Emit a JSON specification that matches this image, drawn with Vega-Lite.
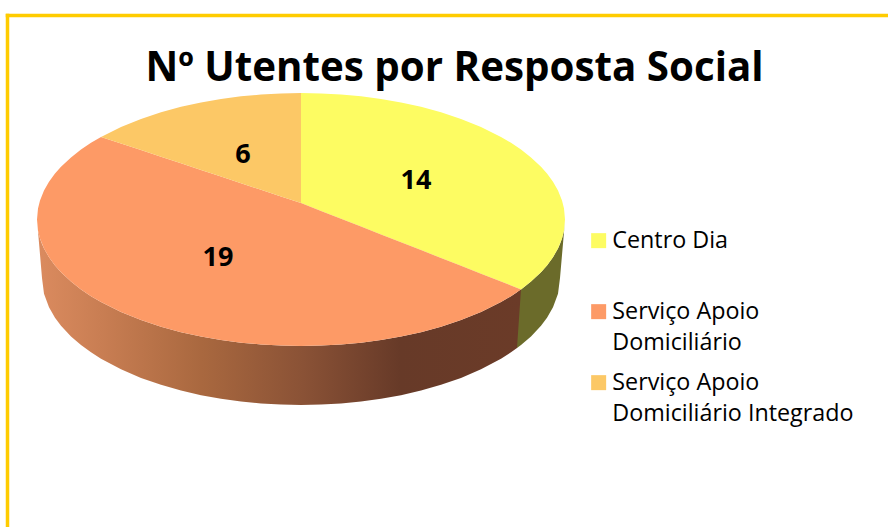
{"$schema":"https://vega.github.io/schema/vega-lite/v6.json","width":881,"height":512,"autosize":"none","padding":{"left":7,"top":15,"right":0,"bottom":0},"background":"white","config":{"view":{"stroke":null},"style":{"guide-label":{"lineHeight":31.5}}},"title":{"text":"Nº Utentes por Resposta Social","font":"Open Sans","fontSize":40.3,"fontWeight":"bold","color":"#000000","anchor":"middle","frame":"group","dx":7,"dy":106,"offset":0,"baseline":"alphabetic"},"datasets":{"wallYellow":[{"x":517,"y":292.2,"y2":348.1},{"x":521,"y":289.4,"y2":345},{"x":531,"y":281.6,"y2":336.4},{"x":541,"y":272.2,"y2":325.8},{"x":547,"y":265.4,"y2":317.7},{"x":553,"y":257.2,"y2":307.3},{"x":558,"y":248.4,"y2":293.7},{"x":560,"y":244,"y2":278},{"x":562,"y":238.5,"y2":255},{"x":564,"y":230.5,"y2":232},{"x":565,"y":219.5,"y2":219.5}],"wallOrange":[{"x":37,"y":219.5,"y2":219.5},{"x":38,"y":230.5,"y2":231.2},{"x":40,"y":238.5,"y2":254.6},{"x":42,"y":244,"y2":278},{"x":44,"y":248.4,"y2":293.7},{"x":49,"y":257.2,"y2":307.3},{"x":55,"y":265.4,"y2":317.7},{"x":61,"y":272.2,"y2":325.8},{"x":71,"y":281.6,"y2":336.4},{"x":81,"y":289.4,"y2":345},{"x":91,"y":296.2,"y2":352.3},{"x":101,"y":302.1,"y2":358.7},{"x":121,"y":312,"y2":369.3},{"x":141,"y":320.1,"y2":377.9},{"x":161,"y":326.7,"y2":384.8},{"x":181,"y":332.2,"y2":390.5},{"x":201,"y":336.6,"y2":395.2},{"x":221,"y":340.1,"y2":398.8},{"x":241,"y":342.7,"y2":401.5},{"x":261,"y":344.5,"y2":403.5},{"x":281,"y":345.6,"y2":404.6},{"x":301,"y":346,"y2":405},{"x":321,"y":345.6,"y2":404.6},{"x":341,"y":344.5,"y2":403.5},{"x":361,"y":342.7,"y2":401.5},{"x":381,"y":340.1,"y2":398.8},{"x":401,"y":336.6,"y2":395.2},{"x":421,"y":332.2,"y2":390.5},{"x":441,"y":326.7,"y2":384.8},{"x":461,"y":320.1,"y2":377.9},{"x":481,"y":312,"y2":369.3},{"x":501,"y":302.1,"y2":358.7},{"x":511,"y":296.2,"y2":352.3},{"x":517,"y":292.2,"y2":348.1},{"x":521,"y":289.4,"y2":289.4}],"slices":[{"s":"Centro Dia","x":301,"y":93,"y2":203},{"s":"Centro Dia","x":321,"y":93.4,"y2":210.9},{"s":"Centro Dia","x":341,"y":94.5,"y2":218.7},{"s":"Centro Dia","x":361,"y":96.3,"y2":226.6},{"s":"Centro Dia","x":381,"y":98.9,"y2":234.4},{"s":"Centro Dia","x":401,"y":102.4,"y2":242.3},{"s":"Centro Dia","x":421,"y":106.8,"y2":250.1},{"s":"Centro Dia","x":441,"y":112.3,"y2":258},{"s":"Centro Dia","x":461,"y":118.9,"y2":265.8},{"s":"Centro Dia","x":481,"y":127,"y2":273.7},{"s":"Centro Dia","x":501,"y":136.9,"y2":281.5},{"s":"Centro Dia","x":511,"y":142.8,"y2":285.5},{"s":"Centro Dia","x":521,"y":149.6,"y2":289.4},{"s":"Centro Dia","x":531,"y":157.4,"y2":281.6},{"s":"Centro Dia","x":541,"y":166.8,"y2":272.2},{"s":"Centro Dia","x":547,"y":173.6,"y2":265.4},{"s":"Centro Dia","x":553,"y":181.8,"y2":257.2},{"s":"Centro Dia","x":558,"y":190.6,"y2":248.4},{"s":"Centro Dia","x":562,"y":200.5,"y2":238.5},{"s":"Centro Dia","x":564,"y":208.5,"y2":230.5},{"s":"Centro Dia","x":565,"y":219.5,"y2":219.5},{"s":"Serviço Apoio Domiciliário","x":37,"y":219.5,"y2":219.5},{"s":"Serviço Apoio Domiciliário","x":38,"y":208.5,"y2":230.5},{"s":"Serviço Apoio Domiciliário","x":40,"y":200.5,"y2":238.5},{"s":"Serviço Apoio Domiciliário","x":44,"y":190.6,"y2":248.4},{"s":"Serviço Apoio Domiciliário","x":49,"y":181.8,"y2":257.2},{"s":"Serviço Apoio Domiciliário","x":55,"y":173.6,"y2":265.4},{"s":"Serviço Apoio Domiciliário","x":61,"y":166.8,"y2":272.2},{"s":"Serviço Apoio Domiciliário","x":71,"y":157.4,"y2":281.6},{"s":"Serviço Apoio Domiciliário","x":81,"y":149.6,"y2":289.4},{"s":"Serviço Apoio Domiciliário","x":91,"y":142.8,"y2":296.2},{"s":"Serviço Apoio Domiciliário","x":101,"y":136.9,"y2":302.1},{"s":"Serviço Apoio Domiciliário","x":121,"y":143.5,"y2":312},{"s":"Serviço Apoio Domiciliário","x":141,"y":150.1,"y2":320.1},{"s":"Serviço Apoio Domiciliário","x":161,"y":156.7,"y2":326.7},{"s":"Serviço Apoio Domiciliário","x":181,"y":163.3,"y2":332.2},{"s":"Serviço Apoio Domiciliário","x":201,"y":169.9,"y2":336.6},{"s":"Serviço Apoio Domiciliário","x":221,"y":176.6,"y2":340.1},{"s":"Serviço Apoio Domiciliário","x":241,"y":183.2,"y2":342.7},{"s":"Serviço Apoio Domiciliário","x":261,"y":189.8,"y2":344.5},{"s":"Serviço Apoio Domiciliário","x":281,"y":196.4,"y2":345.6},{"s":"Serviço Apoio Domiciliário","x":301,"y":203,"y2":346},{"s":"Serviço Apoio Domiciliário","x":321,"y":210.9,"y2":345.6},{"s":"Serviço Apoio Domiciliário","x":341,"y":218.7,"y2":344.5},{"s":"Serviço Apoio Domiciliário","x":361,"y":226.6,"y2":342.7},{"s":"Serviço Apoio Domiciliário","x":381,"y":234.4,"y2":340.1},{"s":"Serviço Apoio Domiciliário","x":401,"y":242.3,"y2":336.6},{"s":"Serviço Apoio Domiciliário","x":421,"y":250.1,"y2":332.2},{"s":"Serviço Apoio Domiciliário","x":441,"y":258,"y2":326.7},{"s":"Serviço Apoio Domiciliário","x":461,"y":265.8,"y2":320.1},{"s":"Serviço Apoio Domiciliário","x":481,"y":273.7,"y2":312},{"s":"Serviço Apoio Domiciliário","x":501,"y":281.5,"y2":302.1},{"s":"Serviço Apoio Domiciliário","x":511,"y":285.5,"y2":296.2},{"s":"Serviço Apoio Domiciliário","x":521,"y":289.4,"y2":289.4},{"s":"Serviço Apoio Domiciliário Integrado","x":101,"y":136.9,"y2":136.9},{"s":"Serviço Apoio Domiciliário Integrado","x":121,"y":127,"y2":143.5},{"s":"Serviço Apoio Domiciliário Integrado","x":141,"y":118.9,"y2":150.1},{"s":"Serviço Apoio Domiciliário Integrado","x":161,"y":112.3,"y2":156.7},{"s":"Serviço Apoio Domiciliário Integrado","x":181,"y":106.8,"y2":163.3},{"s":"Serviço Apoio Domiciliário Integrado","x":201,"y":102.4,"y2":169.9},{"s":"Serviço Apoio Domiciliário Integrado","x":221,"y":98.9,"y2":176.6},{"s":"Serviço Apoio Domiciliário Integrado","x":241,"y":96.3,"y2":183.2},{"s":"Serviço Apoio Domiciliário Integrado","x":261,"y":94.5,"y2":189.8},{"s":"Serviço Apoio Domiciliário Integrado","x":281,"y":93.4,"y2":196.4},{"s":"Serviço Apoio Domiciliário Integrado","x":301,"y":93,"y2":203}],"labels":[{"s":"Centro Dia","value":14,"x":416,"y":181},{"s":"Serviço Apoio Domiciliário","value":19,"x":218,"y":258},{"s":"Serviço Apoio Domiciliário Integrado","value":6,"x":243,"y":155}]},"encoding":{"x":{"field":"x","type":"quantitative","scale":{"domain":[7,888],"range":[0,881],"nice":false,"zero":false},"axis":{"orient":"top","title":null,"labels":false,"ticks":false,"grid":false,"domainColor":"#FFCC00","domainWidth":3.5,"domainCap":"square"}},"y":{"field":"y","type":"quantitative","scale":{"domain":[15,527],"range":[0,512],"nice":false,"zero":false},"axis":{"orient":"left","title":null,"labels":false,"ticks":false,"grid":false,"domainColor":"#FFCC00","domainWidth":3.5,"domainCap":"square"}}},"layer":[{"data":{"name":"wallYellow"},"mark":{"type":"area","fill":"#6B6B2A","clip":true},"encoding":{"y2":{"field":"y2"}}},{"data":{"name":"wallOrange"},"mark":{"type":"area","clip":true,"fill":{"gradient":"linear","x1":0,"x2":1,"y1":0,"y2":0,"stops":[{"offset":0,"color":"#DB8B5F"},{"offset":0.13,"color":"#C97E53"},{"offset":0.34,"color":"#A9683F"},{"offset":0.55,"color":"#8A5236"},{"offset":0.75,"color":"#673A28"},{"offset":1,"color":"#6B3B28"}]}},"encoding":{"y2":{"field":"y2"}}},{"data":{"name":"slices"},"mark":{"type":"area","clip":true},"encoding":{"y2":{"field":"y2"},"color":{"field":"s","type":"nominal","scale":{"domain":["Centro Dia","Serviço Apoio Domiciliário","Serviço Apoio Domiciliário Integrado"],"range":["#FDFC62","#FD9A66","#FCC866"]},"legend":{"orient":"none","legendX":580,"legendY":214,"title":null,"symbolType":"square","symbolSize":225,"symbolStrokeWidth":0,"labelFont":"Open Sans","labelFontSize":23.3,"labelColor":"#000000","labelLimit":300,"labelOffset":2,"rowPadding":15,"labelExpr":"datum.label == 'Centro Dia' ? [datum.label, ' '] : ['Serviço Apoio', substring(datum.label, 14)]"}}}},{"data":{"name":"labels"},"mark":{"type":"text","font":"Open Sans","fontSize":27,"fontWeight":"bold","color":"#000000","align":"center","baseline":"middle"},"encoding":{"text":{"field":"value","type":"quantitative"}}}]}
